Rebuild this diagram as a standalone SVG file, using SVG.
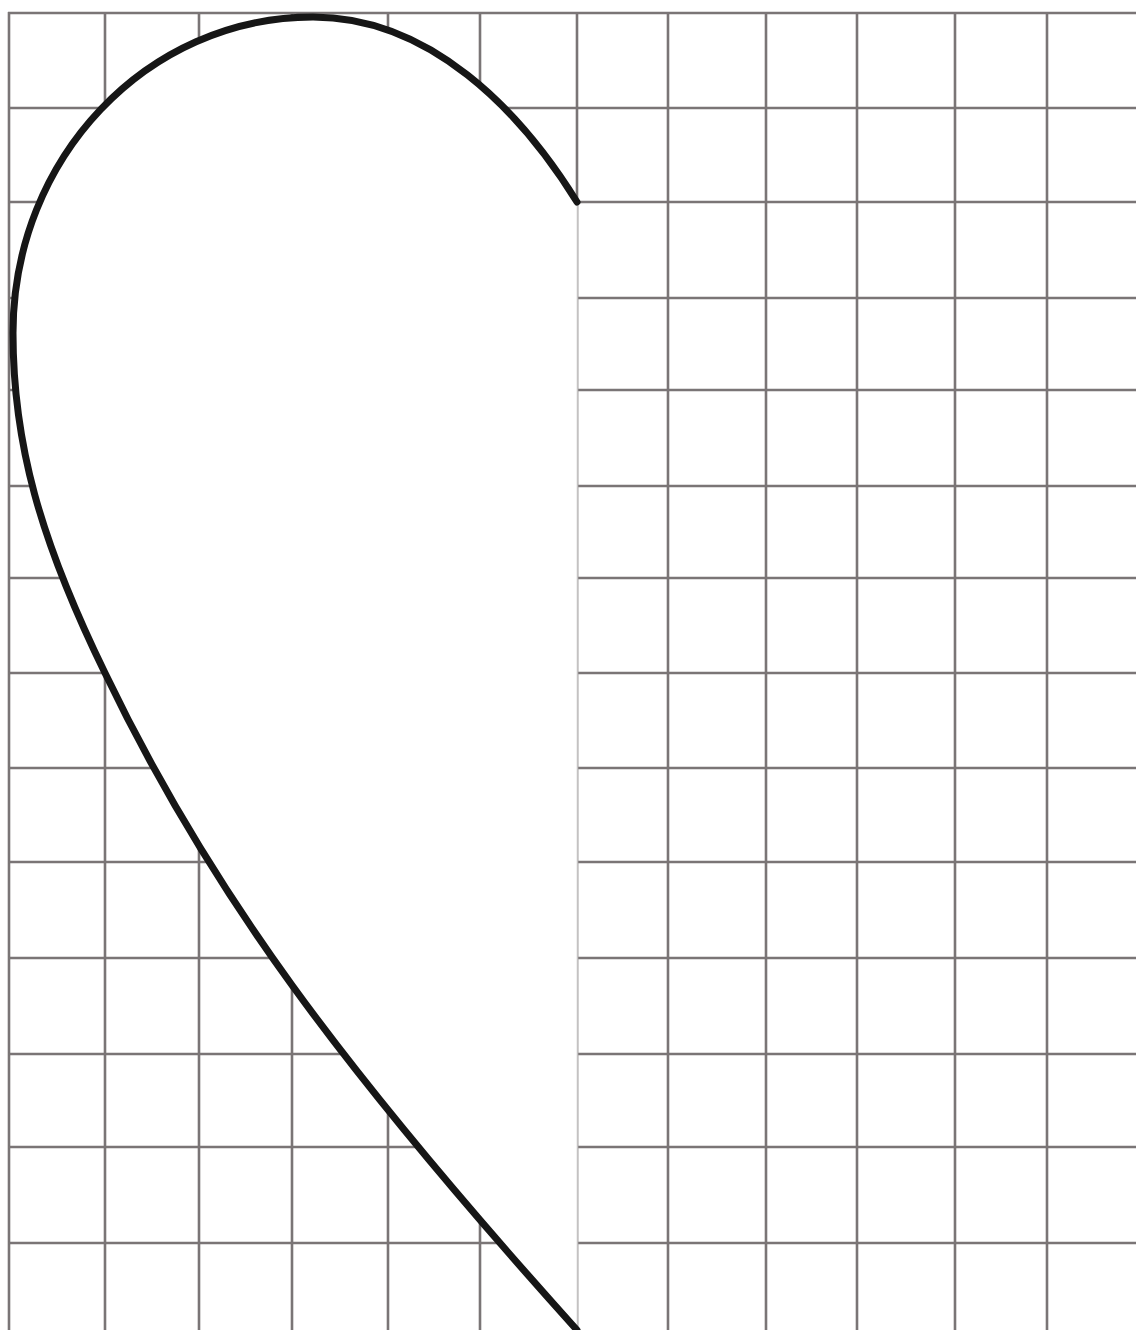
<svg xmlns="http://www.w3.org/2000/svg" width="1136" height="1330" viewBox="0 0 1136 1330">
<style>
.g{stroke:#7a7576;stroke-width:2.6;fill:none}
.h{fill:#ffffff;stroke:none}
.o{fill:none;stroke:#161616;stroke-width:7;stroke-linecap:round;stroke-linejoin:round}
</style>
<rect x="0" y="0" width="1136" height="1330" fill="#ffffff"/>
<g id="grid" class="g">
<path d="M9,12V1330M105,12V1330M199,12V1330M292,12V1330M388,12V1330M480,12V1330M577,12V1330M668,12V1330M766,12V1330M857,12V1330M955,12V1330M1047,12V1330"/>
<path d="M8,13H1136M8,108H1136M8,202H1136M8,298H1136M8,390H1136M8,486H1136M8,578H1136M8,673H1136M8,768H1136M8,862H1136M8,958H1136M8,1054H1136M8,1147H1136M8,1243H1136"/>
</g>
<g id="heart-half">
<path class="h" d="M577,202 C520,110 430,17 313,17 C147,17 13,158 13,333 C13,443 40,540 105,673 C209,890 342,1069 577,1330 Z"/>
<line x1="577.5" y1="202" x2="577.5" y2="1330" stroke="#c4c2c2" stroke-width="1.5"/>
<path class="o" d="M577,202 C520,110 430,17 313,17 C147,17 13,158 13,333 C13,443 40,540 105,673 C209,890 342,1069 577,1330"/>
</g>
</svg>
